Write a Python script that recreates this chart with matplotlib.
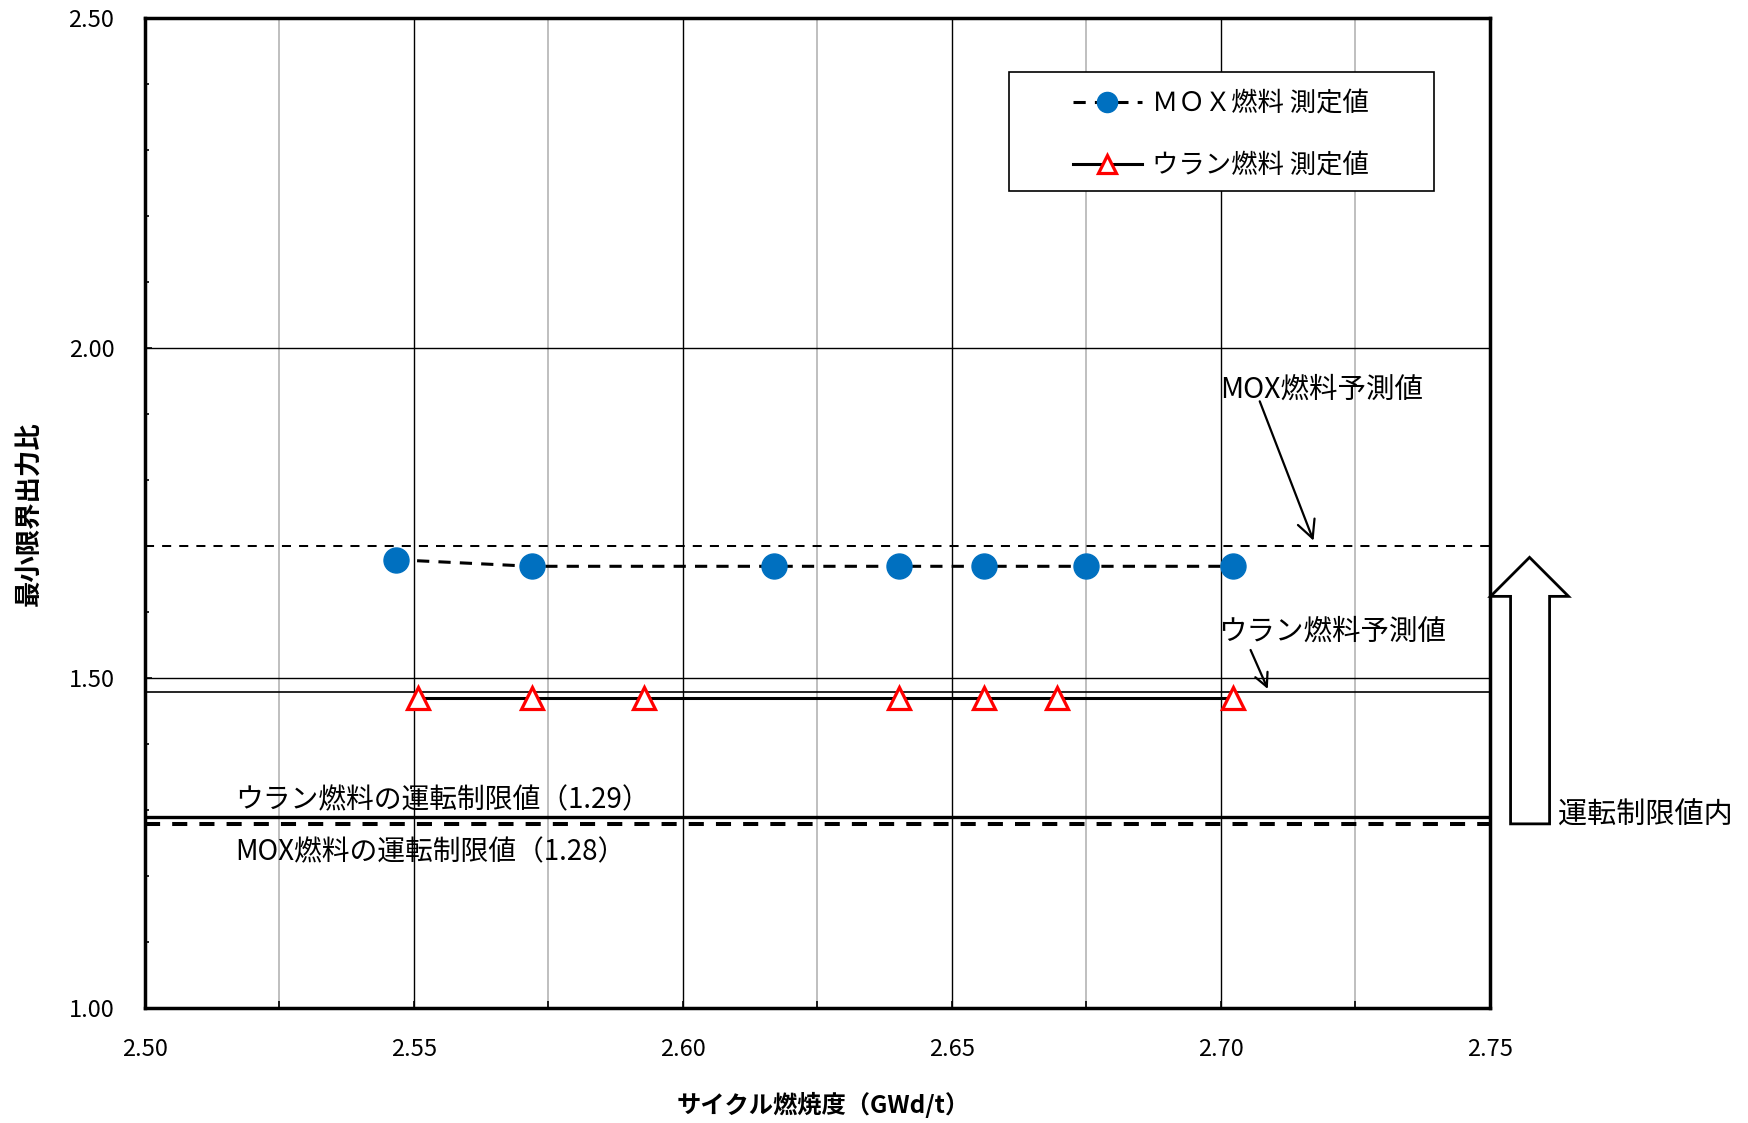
import matplotlib
matplotlib.use("Agg")
import matplotlib.pyplot as plt
from matplotlib.lines import Line2D
from matplotlib.patches import Rectangle, Polygon
from matplotlib.ticker import MultipleLocator, FormatStrFormatter

plt.rcParams['font.family'] = ['Noto Sans CJK JP', 'DejaVu Sans']

# measured values
mox_burnup = [2.5466, 2.5719, 2.6170, 2.6402, 2.6560, 2.6750, 2.7022]
mox_mcpr = [1.68, 1.67, 1.67, 1.67, 1.67, 1.67, 1.67]
u_burnup = [2.5507, 2.5719, 2.5928, 2.6402, 2.6560, 2.6696, 2.7022]
u_mcpr = [1.47, 1.47, 1.47, 1.47, 1.47, 1.47, 1.47]

# predictions and operating limits
mox_pred = 1.70
u_pred = 1.48
u_limit = 1.29
mox_limit = 1.28

mox_label = 'ＭＯＸ燃料 測定値'
u_label = 'ウラン燃料 測定値'

fig = plt.figure(figsize=(17.48, 11.23), dpi=100)
ax = fig.add_axes([0.08295, 0.10196, 0.76945, 0.88157])

ax.set_xlim(2.50, 2.75)
ax.set_ylim(1.00, 2.50)

# grid
ax.xaxis.set_major_locator(MultipleLocator(0.05))
ax.xaxis.set_minor_locator(MultipleLocator(0.025))
ax.yaxis.set_major_locator(MultipleLocator(0.5))
ax.yaxis.set_minor_locator(MultipleLocator(0.1))
ax.xaxis.set_major_formatter(FormatStrFormatter('%.2f'))
ax.yaxis.set_major_formatter(FormatStrFormatter('%.2f'))
ax.grid(which='major', axis='both', color='black', lw=1.0, zorder=1)
ax.grid(which='minor', axis='x', color='#BFBFBF', lw=1.4, zorder=1)
ax.set_axisbelow(True)

ax.tick_params(axis='both', which='both', direction='in', labelsize=17, width=1.2)
ax.tick_params(axis='x', which='both', length=5, pad=21)
ax.tick_params(axis='y', which='major', length=5, pad=22)
ax.tick_params(axis='y', which='minor', length=3)
for sp in ax.spines.values():
    sp.set_linewidth(2.5)
    sp.set_zorder(6)

# prediction and limit lines
ax.axhline(mox_pred, color='black', lw=1.45, linestyle=(0, (4.5, 4)), zorder=2)
ax.axhline(u_pred, color='black', lw=1.2, zorder=2)
ax.axhline(u_limit, color='black', lw=2.4, zorder=2)
ax.axhline(mox_limit, color='black', lw=2.9, linestyle=(0, (3.75, 3)), zorder=2)

# measured data
ax.plot(mox_burnup, mox_mcpr, color='black', lw=2.2, linestyle=(0, (4, 3)),
        marker='o', markersize=18, markerfacecolor='#0070C0',
        markeredgecolor='#0070C0', zorder=4)
ax.plot(u_burnup, u_mcpr, color='black', lw=2.2,
        marker='^', markersize=16, markerfacecolor='white',
        markeredgecolor='#FF0000', markeredgewidth=2.3, zorder=4)

# annotations
ax.text(2.6999, 1.925, 'MOX燃料予測値', fontsize=20.5, va='baseline', zorder=5)
ax.annotate('', xy=(2.7172, 1.7088), xytext=(2.7072, 1.92),
            arrowprops=dict(arrowstyle='->', lw=1.6, color='black',
                            mutation_scale=32, shrinkA=0, shrinkB=0), zorder=5)
ax.text(2.6995, 1.5584, 'ウラン燃料予測値', fontsize=20.5, va='baseline', zorder=5)
ax.annotate('', xy=(2.7087, 1.4841), xytext=(2.7055, 1.5432),
            arrowprops=dict(arrowstyle='->', lw=1.6, color='black',
                            mutation_scale=24, shrinkA=0, shrinkB=0), zorder=5)
ax.text(2.5168, 1.3026, 'ウラン燃料の運転制限値（1.29）', fontsize=20, va='baseline', zorder=5)
ax.text(2.5168, 1.2248, 'MOX燃料の運転制限値（1.28）', fontsize=20, va='baseline', zorder=5)
ax.text(2.7627, 1.2806, '運転制限値内', fontsize=21, va='baseline', clip_on=False)

# hollow "within limit" arrow at the right of the plot
arrow_pts = [(1.0153, 0.1865), (1.0153, 0.4163), (1.0004, 0.4163), (1.0294, 0.4557),
             (1.0584, 0.4163), (1.0443, 0.4163), (1.0443, 0.1865)]
ax.add_patch(Polygon(arrow_pts, closed=True, transform=ax.transAxes, clip_on=False,
                     facecolor='white', edgecolor='black', lw=2.0, zorder=7))

# legend
ax.add_patch(Rectangle((0.6423, 0.8262), 0.3158, 0.1193, transform=ax.transAxes,
                       facecolor='white', edgecolor='black', lw=1.2, zorder=8))
handles = [
    Line2D([], [], color='black', lw=2.2, linestyle=(0, (4, 3)), marker='o', markersize=14.5,
           markerfacecolor='#0070C0', markeredgecolor='#0070C0'),
    Line2D([], [], color='black', lw=2.2, marker='^', markersize=13,
           markerfacecolor='white', markeredgecolor='#FF0000', markeredgewidth=2.3),
]
leg = ax.legend(handles, [mox_label, u_label], loc='upper left',
                bbox_to_anchor=(0.6903, 0.9275), frameon=False, fontsize=19,
                handlelength=2.58, handletextpad=0.38, labelspacing=1.33,
                borderpad=0, borderaxespad=0)
leg.set_zorder(9)

ax.set_xlabel('サイクル燃焼度（GWd/t）', fontsize=17.5, fontweight='bold')
ax.xaxis.set_label_coords(0.504, -0.097)
ax.xaxis.label.set_va('center')
ax.set_ylabel('最小限界出力比', fontsize=19, fontweight='bold')
ax.yaxis.set_label_coords(-0.0859, 0.5)
ax.yaxis.label.set_va('center')

fig.savefig('out.png', dpi=100)
